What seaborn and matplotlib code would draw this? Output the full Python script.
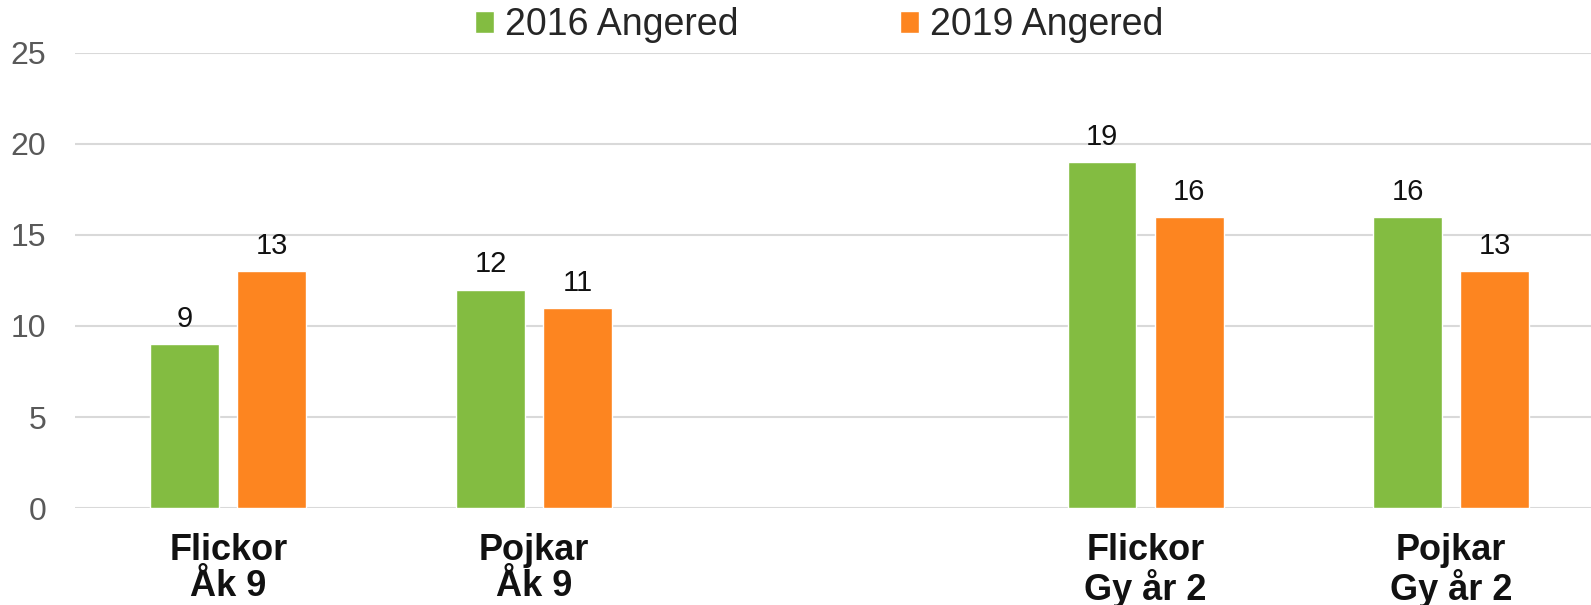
import pandas as pd
import matplotlib
matplotlib.use('Agg')
import matplotlib.pyplot as plt
import seaborn as sns

categories = ['Flickor\nÅk 9', 'Pojkar\nÅk 9', ' ', 'Flickor\nGy år 2', 'Pojkar\nGy år 2']
series = ['2016 Angered', '2019 Angered']
values_2016 = [9, 12, None, 19, 16]
values_2019 = [13, 11, None, 16, 13]
colors = ['#83BC41', '#FD8520']

rows = []
for cat, v16, v19 in zip(categories, values_2016, values_2019):
    if v16 is not None:
        rows.append({'kategori': cat, 'serie': series[0], 'varde': v16})
    if v19 is not None:
        rows.append({'kategori': cat, 'serie': series[1], 'varde': v19})
data = pd.DataFrame(rows)

sns.set_style('white')
plt.rcParams['font.family'] = ['Liberation Sans', 'DejaVu Sans']

fig = plt.figure(figsize=(15.91, 6.05), dpi=100)
ax = fig.add_axes([0.0474, 0.160, 0.9526, 0.753])

sns.barplot(data=data, x='kategori', y='varde', hue='serie', order=categories,
            hue_order=series, palette=colors, width=0.57, gap=0.21,
            saturation=1, ax=ax, legend=True)

for cont in ax.containers:
    ax.bar_label(cont, fmt='%d', padding=8, fontsize=21, color='#111111')

ax.set_ylim(0, 25)
ax.set_xlim(-0.5, 4.457)
ax.set_yticks(range(0, 26, 5))
ax.yaxis.grid(True, color='#D9D9D9', linewidth=1.5)
ax.set_axisbelow(True)
for s in ax.spines.values():
    s.set_visible(False)
ax.set_xlabel('')
ax.set_ylabel('')
ax.tick_params(axis='y', length=0, pad=21, labelsize=23, labelcolor='#595959')
ax.tick_params(axis='x', length=0, pad=18, labelsize=26)
for lab in ax.get_xticklabels():
    lab.set_fontweight('bold')
    lab.set_linespacing(1.02)
    lab.set_color('#111111')

ax.get_legend().remove()
handles, labels = ax.get_legend_handles_labels()
fig.legend(handles, labels, loc='center', bbox_to_anchor=(0.515, 0.958), ncol=2,
           frameon=False, fontsize=27, handlelength=0.5, handleheight=0.5,
           handletextpad=0.3, columnspacing=4.3)

fig.savefig('out.png', dpi=100)
